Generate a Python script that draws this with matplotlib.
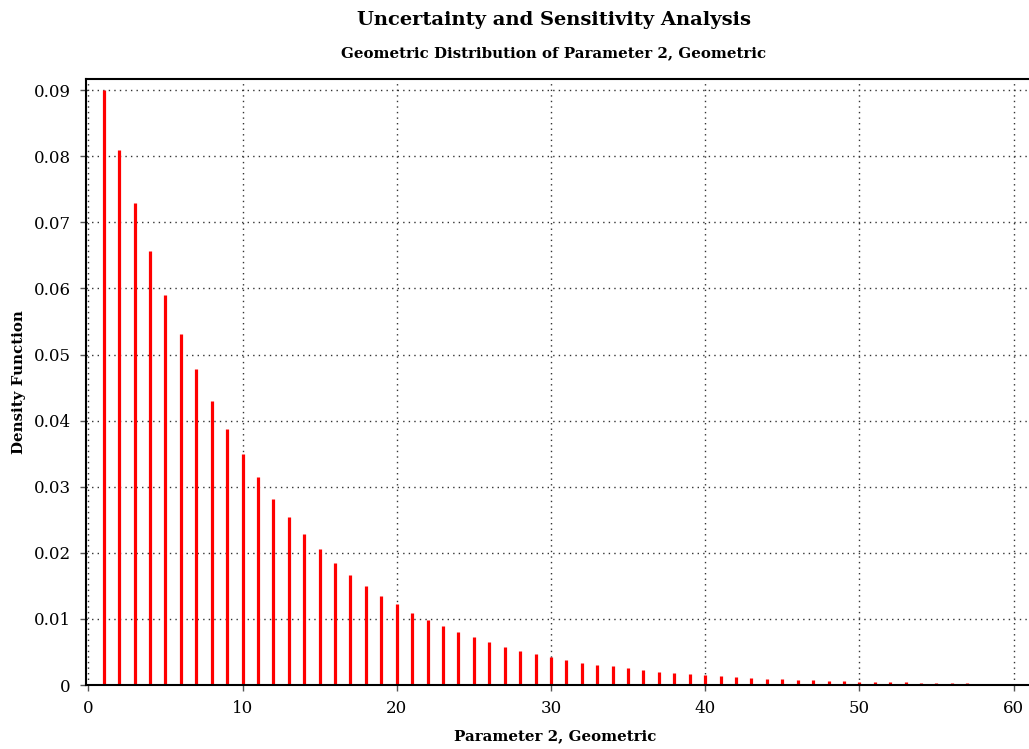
import matplotlib.pyplot as plt
import numpy as np

# values (Parameter 2, Geometric)
x_values = np.arange(1, 60)
density = [0.09, 0.081, 0.0729, 0.0656, 0.0590, 0.0531, 0.0478, 0.0430, 0.0387, 0.0349,
           0.0314, 0.0282, 0.0254, 0.0229, 0.0206, 0.0185, 0.0167, 0.0150, 0.0135, 0.0122,
           0.0109, 0.0098, 0.0089, 0.0080, 0.0072, 0.0065, 0.0058, 0.0052, 0.0047, 0.0042,
           0.0038, 0.0034, 0.0031, 0.0028, 0.0025, 0.0023, 0.0020, 0.0018, 0.0016, 0.0015,
           0.0013, 0.0012, 0.0011, 0.00097, 0.00087, 0.00079, 0.00071, 0.00064, 0.00057, 0.00052,
           0.00046, 0.00042, 0.00038, 0.00034, 0.00030, 0.00027, 0.00025, 0.00022, 0.00020]
x_ticks = [0, 10, 20, 30, 40, 50, 60]
y_ticks = [0, 0.01, 0.02, 0.03, 0.04, 0.05, 0.06, 0.07, 0.08, 0.09]
y_tick_labels = ['0', '0.01', '0.02', '0.03', '0.04', '0.05', '0.06', '0.07', '0.08', '0.09']

plt.rcParams['font.family'] = 'DejaVu Serif'

fig = plt.figure(figsize=(10.29, 7.49), dpi=100)
ax = fig.add_axes([86 / 1029, 1 - 685 / 749, 1 - 86 / 1029, (685 - 79) / 749])

ax.vlines(x_values, 0, density, colors='#ff0000', linewidth=2.3)

ax.set_xlim(-0.15, 61)
ax.set_ylim(0, 0.0917)
ax.set_xticks(x_ticks)
ax.set_yticks(y_ticks, labels=y_tick_labels)
ax.grid(True, color='#333333', linestyle=(0, (1, 3)), linewidth=1)
ax.set_axisbelow(True)

for side in ['left', 'bottom', 'top']:
    ax.spines[side].set_linewidth(1.5)
ax.spines['right'].set_visible(False)

ax.tick_params(axis='both', labelsize=12, length=4, width=1, color='#555555', pad=7)

fig.text(0.538, 0.973, 'Uncertainty and Sensitivity Analysis', ha='center', va='center',
         fontsize=14, fontweight='bold')
fig.text(0.538, 0.929, 'Geometric Distribution of Parameter 2, Geometric', ha='center',
         va='center', fontsize=10.8, fontweight='bold')
fig.text(0.540, 0.017, 'Parameter 2, Geometric', ha='center', va='center',
         fontsize=10.8, fontweight='bold')
fig.text(0.018, 0.49, 'Density Function', ha='center', va='center', rotation=90,
         fontsize=10.8, fontweight='bold')

fig.savefig('out.png', dpi=100)
